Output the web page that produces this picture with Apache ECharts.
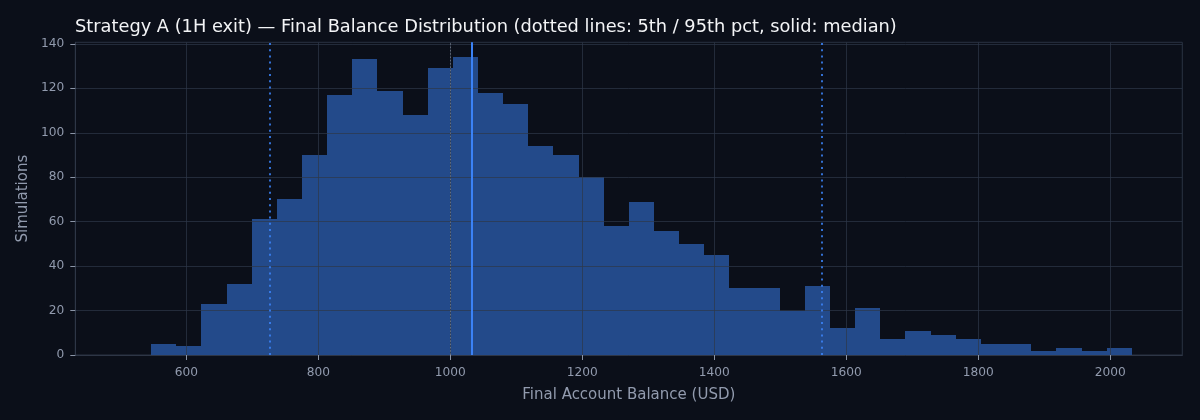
<!DOCTYPE html>
<html>
<head>
<meta charset="utf-8">
<title>Strategy A - Final Balance Distribution</title>
<script src="https://cdn.jsdelivr.net/npm/echarts@6/dist/echarts.min.js"></script>
<style>
  html, body { margin: 0; padding: 0; background: #0b0f19; }
  #chart { width: 1200px; height: 420px; }
</style>
</head>
<body>
<div id="chart"></div>
<script>
// histogram bins (USD)
const binStart = 546.6;
const binWidth = 38.1;
const counts = [
  5, 4, 23, 32, 61, 70, 90, 117, 133, 119,
  108, 129, 134, 118, 113, 94, 90, 80, 58, 69,
  56, 50, 45, 30, 30, 20, 31, 12, 21, 7,
  11, 9, 7, 5, 5, 2, 3, 2, 3
];

// reference lines
const startBalance = 1000;
const p5Value = 727;
const medianValue = 1033;
const p95Value = 1563;

// axes
const xTicks = [600, 800, 1000, 1200, 1400, 1600, 1800, 2000];
const yTicks = [0, 20, 40, 60, 80, 100, 120, 140];
const xRange = [431.8, 2109];
const yRange = [0, 140.7];

const font = "'DejaVu Sans', sans-serif";
const textGrey = '#929bae';
const gridColor = 'rgba(46, 56, 72, 0.7)';
const barColor = '#234a8a';

let bins = counts.map((c, i) => [binStart + i * binWidth, binStart + (i + 1) * binWidth, c]);

let chart = echarts.init(document.getElementById('chart'), null, { renderer: 'canvas' });

let axisCommon = {
  axisLine: { show: true, lineStyle: { color: '#2e3646', width: 1 } },
  splitLine: { show: false },
  z: 5
};

let option = {
  backgroundColor: '#0b0f19',
  animation: false,
  title: {
    text: 'Strategy A (1H exit) \u2014 Final Balance Distribution (dotted lines: 5th / 95th pct, solid: median)',
    left: 70,
    top: 13,
    textStyle: { color: '#f3f4f6', fontFamily: font, fontSize: 17.8, fontWeight: 'normal' }
  },
  grid: {
    left: 75.3,
    right: 17.7,
    top: 42.3,
    bottom: 65,
    show: true,
    borderColor: '#2a3242',
    borderWidth: 1,
    backgroundColor: 'transparent'
  },
  xAxis: Object.assign({
    type: 'value',
    min: xRange[0],
    max: xRange[1],
    name: 'Final Account Balance (USD)',
    nameLocation: 'middle',
    nameGap: 33,
    nameTextStyle: { color: textGrey, fontFamily: font, fontSize: 15 },
    axisTick: { show: true, customValues: xTicks, length: 5, lineStyle: { color: '#8b95a7' } },
    axisLabel: { customValues: xTicks, formatter: v => String(v), color: textGrey, fontFamily: font, fontSize: 12.2, margin: 12 }
  }, axisCommon),
  yAxis: Object.assign({
    type: 'value',
    min: yRange[0],
    max: yRange[1],
    name: 'Simulations',
    nameLocation: 'middle',
    nameGap: 36,
    nameTextStyle: { color: textGrey, fontFamily: font, fontSize: 15 },
    axisTick: { show: true, customValues: yTicks, length: 5, lineStyle: { color: '#8b95a7' } },
    axisLabel: { customValues: yTicks, formatter: v => String(v), color: textGrey, fontFamily: font, fontSize: 12.2, margin: 11 }
  }, axisCommon),
  series: [
    {
      type: 'custom',
      z: 2,
      silent: true,
      data: bins,
      encode: { x: [0, 1], y: 2 },
      renderItem: (params, api) => {
        let p0 = api.coord([api.value(0), 0]);
        let p1 = api.coord([api.value(1), api.value(2)]);
        let x0 = Math.round(p0[0]);
        let x1 = Math.round(p1[0]);
        let yTop = Math.round(p1[1]);
        return {
          type: 'rect',
          shape: { x: x0, y: yTop, width: x1 - x0, height: p0[1] - yTop },
          style: { fill: barColor, stroke: null, lineWidth: 0 }
        };
      }
    },
    {
      // grid lines, drawn over the bars
      type: 'line',
      data: [],
      z: 3,
      silent: true,
      markLine: {
        silent: true,
        symbol: 'none',
        label: { show: false },
        lineStyle: { color: gridColor, width: 1, type: 'solid' },
        data: xTicks.map(v => ({ xAxis: v })).concat(yTicks.map(v => ({ yAxis: v })))
      }
    },
    {
      // reference lines
      type: 'line',
      data: [],
      z: 4,
      silent: true,
      markLine: {
        silent: true,
        symbol: 'none',
        label: { show: false },
        data: [
          { xAxis: startBalance, lineStyle: { color: 'rgba(120, 128, 142, 0.75)', width: 1, type: [1.5, 1.8] } },
          { xAxis: p5Value, lineStyle: { color: '#3b82f6', opacity: 0.85, width: 2, type: [2, 4.2] } },
          { xAxis: p95Value, lineStyle: { color: '#3b82f6', opacity: 0.85, width: 2, type: [2, 4.2] } },
          { xAxis: medianValue, lineStyle: { color: '#3b82f6', width: 2, type: 'solid' } }
        ]
      }
    }
  ]
};

chart.setOption(option);
</script>
</body>
</html>
